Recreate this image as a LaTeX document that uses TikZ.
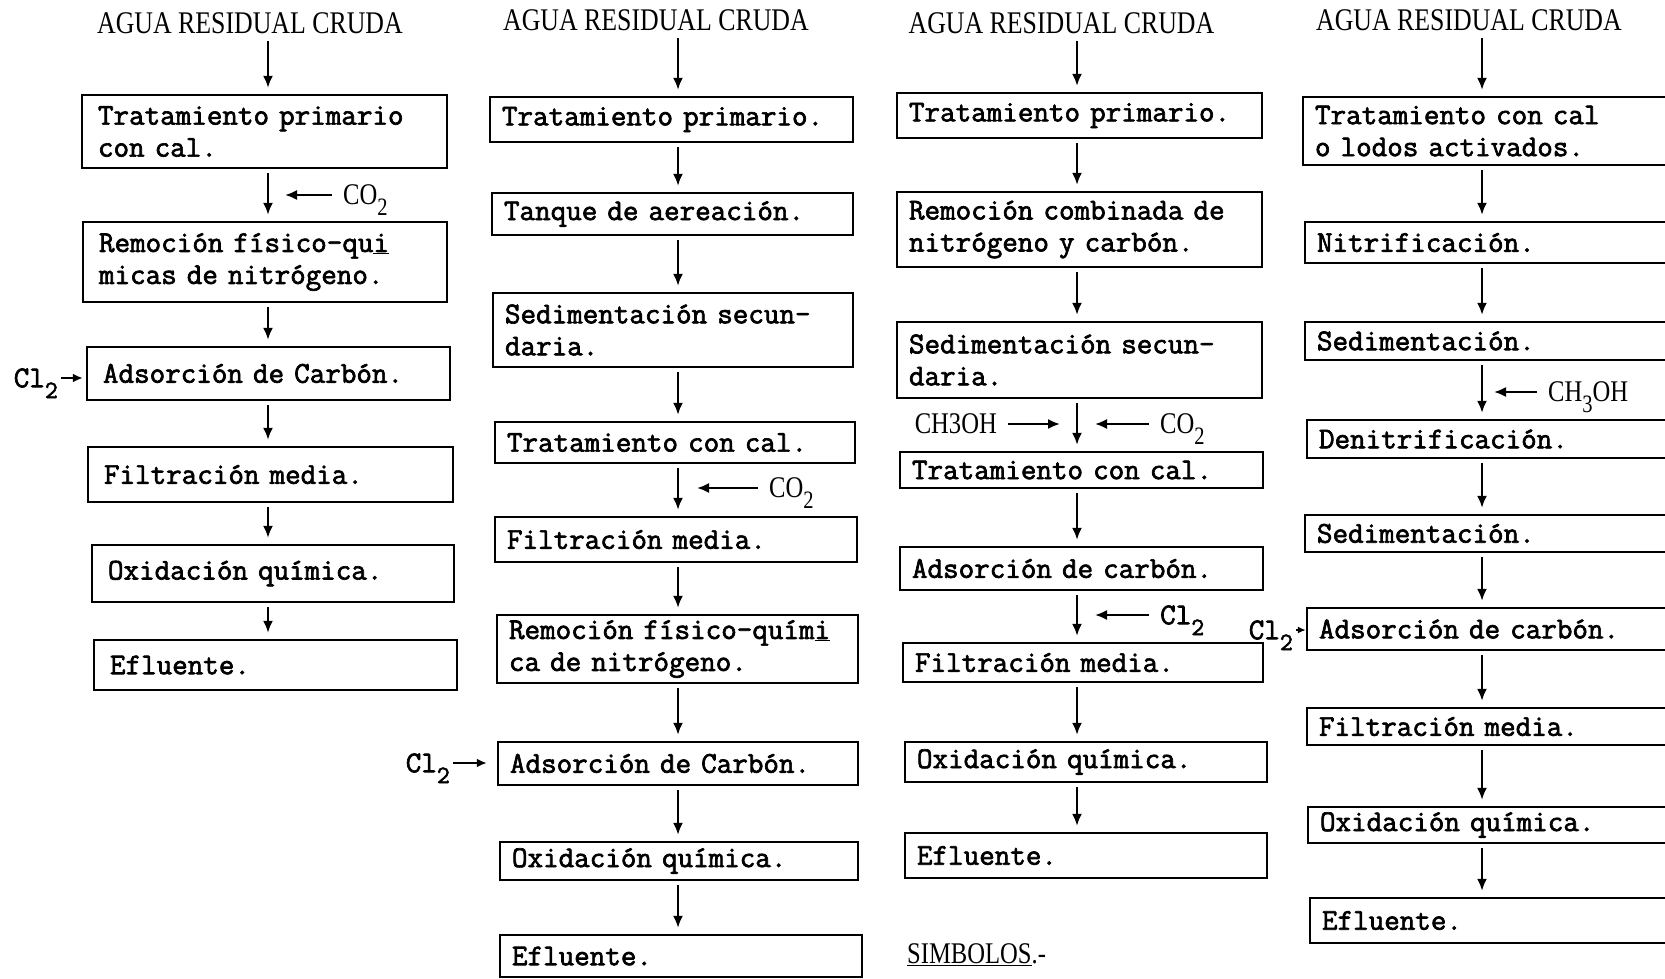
\documentclass[tikz,border=0pt]{standalone}
\usepackage{fontspec}
\usetikzlibrary{arrows.meta}
\newfontfamily\typew{Latin Modern Mono}[FakeBold=2.2]
\newfontfamily\narrow{Liberation Serif}[FakeStretch=0.82]
\newcommand\lowsub[1]{\raisebox{-0.36em}[0pt][0pt]{\fontsize{25}{25}\selectfont #1}}

\begin{document}
\begin{tikzpicture}[x=1pt,y=-1pt,
  proc/.style={draw, line width=2.4pt, rectangle, inner xsep=12pt, inner ysep=0pt, align=left, font=\typew\fontsize{30.2}{32}\selectfont},
  heading/.style={inner sep=3pt, font=\narrow\fontsize{31.5}{34}\selectfont},
  chem/.style={inner sep=3pt, font=\narrow\fontsize{30}{32}\selectfont},
  elem/.style={inner sep=3pt, font=\typew\fontsize{30.2}{32}\selectfont},
  flow/.style={-{Latex[length=12pt,width=10pt]}, line width=2pt, shorten <=4pt, shorten >=6pt},
  side/.style={-{Latex[length=12pt,width=10pt]}, line width=2pt, shorten <=8pt},
  inlet/.style={-{Latex[length=10pt,width=9pt]}, line width=2pt, shorten >=3pt}]
\useasboundingbox (0,0) rectangle (1665,979);
\fill[white] (0,0) rectangle (1665,979);
\clip (0,0) rectangle (1665,979);

% arrow columns
\coordinate (c1x) at (268,0);
\coordinate (c2x) at (678,0);
\coordinate (c3x) at (1077,0);
\coordinate (c4x) at (1482,0);

% column 1
\node[heading] (c1t) at (250,23) {AGUA RESIDUAL CRUDA};
\node[proc, inner xsep=16pt, text width=333pt, minimum height=73pt] (c1b1) at (264.5,131.5) {Tratamiento primario\\con cal.};
\node[proc, inner xsep=16pt, text width=332pt, minimum height=80pt] (c1b2) at (265,262) {Remoción físico-qu\underline{i}\\micas de nitrógeno.};
\node[proc, inner xsep=16pt, text width=331pt, minimum height=53pt] (c1b3) at (268.5,373.5) {Adsorción de Carbón.};
\node[proc, inner xsep=16pt, text width=333pt, minimum height=55pt] (c1b4) at (270.5,474.5) {Filtración media.};
\node[proc, inner xsep=16pt, text width=330pt, minimum height=57pt] (c1b5) at (273,573.5) {Oxidación química.};
\node[proc, inner xsep=16pt, text width=331pt, minimum height=50pt] (c1b6) at (275.5,665) {Efluente.};
\node[chem, anchor=west] (c1co2) at (340,195) {CO\lowsub{2}};
\coordinate (c1m) at (285,195);
\node[elem, anchor=east] (c1cl) at (61,378) {Cl\lowsub{2}};
\draw[flow] (c1t.south -| c1x) -- (c1b1.north -| c1x);
\draw[flow] (c1b1.south -| c1x) -- (c1b2.north -| c1x);
\draw[flow] (c1b2.south -| c1x) -- (c1b3.north -| c1x);
\draw[flow] (c1b3.south -| c1x) -- (c1b4.north -| c1x);
\draw[flow] (c1b4.south -| c1x) -- (c1b5.north -| c1x);
\draw[flow] (c1b5.south -| c1x) -- (c1b6.north -| c1x);
\draw[side] (c1co2.west) -- (c1m);
\draw[inlet] (c1cl.east) -- (c1cl.east -| c1b3.west);

% column 2
\node[heading] (c2t) at (656,20) {AGUA RESIDUAL CRUDA};
\node[proc, text width=339pt, minimum height=45pt] (c2b1) at (671.5,119.5) {Tratamiento primario.};
\node[proc, text width=337pt, minimum height=42pt] (c2b2) at (672.5,214) {Tanque de aereación.};
\node[proc, text width=336pt, minimum height=74pt] (c2b3) at (673,330) {Sedimentación secun-\\daria.};
\node[proc, text width=336pt, minimum height=41pt] (c2b4) at (675,442.5) {Tratamiento con cal.};
\node[proc, text width=338pt, minimum height=45pt] (c2b5) at (676,539.5) {Filtración media.};
\node[proc, text width=337pt, minimum height=68pt] (c2b6) at (677.5,649) {Remoción físico-quím\underline{i}\\ca de nitrógeno.};
\node[proc, text width=336pt, minimum height=43pt] (c2b7) at (678,763.5) {Adsorción de Carbón.};
\node[proc, text width=334pt, minimum height=38pt] (c2b8) at (679,861) {Oxidación química.};
\node[proc, text width=338pt, minimum height=42pt] (c2b9) at (681,956) {Efluente.};
\node[chem, anchor=west] (c2co2) at (766,488) {CO\lowsub{2}};
\coordinate (c2m) at (697,488);
\node[elem, anchor=east] (c2cl) at (453,763) {Cl\lowsub{2}};
\draw[flow] (c2t.south -| c2x) -- (c2b1.north -| c2x);
\draw[flow] (c2b1.south -| c2x) -- (c2b2.north -| c2x);
\draw[flow] (c2b2.south -| c2x) -- (c2b3.north -| c2x);
\draw[flow] (c2b3.south -| c2x) -- (c2b4.north -| c2x);
\draw[flow] (c2b4.south -| c2x) -- (c2b5.north -| c2x);
\draw[flow] (c2b5.south -| c2x) -- (c2b6.north -| c2x);
\draw[flow] (c2b6.south -| c2x) -- (c2b7.north -| c2x);
\draw[flow] (c2b7.south -| c2x) -- (c2b8.north -| c2x);
\draw[flow] (c2b8.south -| c2x) -- (c2b9.north -| c2x);
\draw[side] (c2co2.west) -- (c2m);
\draw[inlet, shorten >=10pt] (c2cl.east) -- (c2cl.east -| c2b7.west);

% column 3
\node[heading] (c3t) at (1061.5,23) {AGUA RESIDUAL CRUDA};
\node[proc, text width=341pt, minimum height=45pt] (c3b1) at (1079.5,115.5) {Tratamiento primario.};
\node[proc, text width=341pt, minimum height=75pt] (c3b2) at (1079.5,229.5) {Remoción combinada de\\nitrógeno y carbón.};
\node[proc, text width=341pt, minimum height=76pt] (c3b3) at (1079.5,360) {Sedimentación secun-\\daria.};
\node[proc, text width=339pt, minimum height=36pt] (c3b4) at (1081.5,470) {Tratamiento con cal.};
\node[proc, text width=339pt, minimum height=43pt] (c3b5) at (1081.5,568.5) {Adsorción de carbón.};
\node[proc, text width=336pt, minimum height=39pt] (c3b6) at (1083,662.5) {Filtración media.};
\node[proc, text width=338pt, minimum height=40pt] (c3b7) at (1086,762) {Oxidación química.};
\node[proc, text width=338pt, minimum height=45pt] (c3b8) at (1086,855.5) {Efluente.};
\node[chem, anchor=east] (c3meth) at (1000,424) {CH3OH};
\node[chem, anchor=west] (c3co2) at (1157,424) {CO\lowsub{2}};
\node[elem, anchor=west] (c3cl) at (1157,615) {Cl\lowsub{2}};
\coordinate (c3ma) at (1060,424);
\coordinate (c3mb) at (1095,424);
\coordinate (c3mc) at (1095,615);
\node[chem, anchor=west] (simb) at (904,955) {\underline{SIMBOLOS}.-};
\draw[flow] (c3t.south -| c3x) -- (c3b1.north -| c3x);
\draw[flow] (c3b1.south -| c3x) -- (c3b2.north -| c3x);
\draw[flow] (c3b2.south -| c3x) -- (c3b3.north -| c3x);
\draw[flow] (c3b3.south -| c3x) -- (c3b4.north -| c3x);
\draw[flow] (c3b4.south -| c3x) -- (c3b5.north -| c3x);
\draw[flow] (c3b5.south -| c3x) -- (c3b6.north -| c3x);
\draw[flow] (c3b6.south -| c3x) -- (c3b7.north -| c3x);
\draw[flow] (c3b7.south -| c3x) -- (c3b8.north -| c3x);
\draw[side] (c3meth.east) -- (c3ma);
\draw[side] (c3co2.west) -- (c3mb);
\draw[side] (c3cl.west) -- (c3mc);

% column 4 (boxes run past the right edge)
\node[heading] (c4t) at (1469,20) {AGUA RESIDUAL CRUDA};
\node[proc, text width=373pt, minimum height=68pt] (c4b1) at (1501.5,131) {Tratamiento con cal\\o lodos activados.};
\node[proc, text width=371pt, minimum height=41pt] (c4b2) at (1502.5,242.5) {Nitrificación.};
\node[proc, text width=371pt, minimum height=38pt] (c4b3) at (1502.5,341) {Sedimentación.};
\node[proc, text width=369pt, minimum height=38pt] (c4b4) at (1503.5,439) {Denitrificación.};
\node[proc, text width=371pt, minimum height=37pt] (c4b5) at (1502.5,533.5) {Sedimentación.};
\node[proc, text width=369pt, minimum height=42pt] (c4b6) at (1503.5,629) {Adsorción de carbón.};
\node[proc, text width=369pt, minimum height=37pt] (c4b7) at (1503.5,726.5) {Filtración media.};
\node[proc, text width=368pt, minimum height=36pt] (c4b8) at (1504,825) {Oxidación química.};
\node[proc, text width=366pt, minimum height=45pt] (c4b9) at (1505,920.5) {Efluente.};
\node[chem, anchor=west] (c4meth) at (1545,392) {CH\lowsub{3}OH};
\coordinate (c4m) at (1494,392);
\node[elem, anchor=east] (c4cl) at (1296,630) {Cl\lowsub{2}};
\draw[flow] (c4t.south -| c4x) -- (c4b1.north -| c4x);
\draw[flow] (c4b1.south -| c4x) -- (c4b2.north -| c4x);
\draw[flow] (c4b2.south -| c4x) -- (c4b3.north -| c4x);
\draw[flow] (c4b3.south -| c4x) -- (c4b4.north -| c4x);
\draw[flow] (c4b4.south -| c4x) -- (c4b5.north -| c4x);
\draw[flow] (c4b5.south -| c4x) -- (c4b6.north -| c4x);
\draw[flow] (c4b6.south -| c4x) -- (c4b7.north -| c4x);
\draw[flow] (c4b7.south -| c4x) -- (c4b8.north -| c4x);
\draw[flow] (c4b8.south -| c4x) -- (c4b9.north -| c4x);
\draw[side] (c4meth.west) -- (c4m);
\draw[-{Latex[length=8pt,width=7pt]}, line width=1.8pt] (c4cl.east) -- (c4cl.east -| c4b6.west);
\end{tikzpicture}
\end{document}
